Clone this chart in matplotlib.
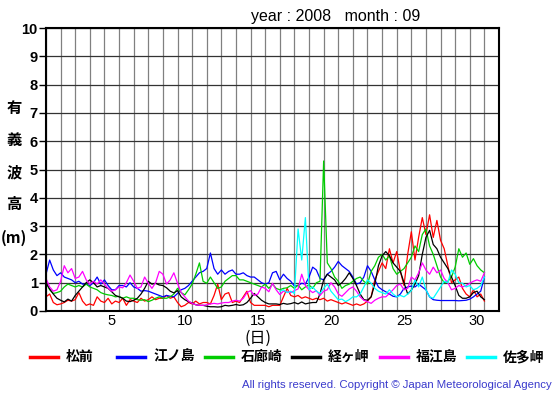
import numpy as np
import matplotlib
matplotlib.use("Agg")
import matplotlib.pyplot as plt
from matplotlib.lines import Line2D

plt.rcParams['font.family'] = ['Liberation Sans', 'Noto Sans CJK JP', 'DejaVu Sans']

# 6-hourly significant wave height (m), Sept 2008, t = 0 is start of day 1
t = np.arange(121) * 0.25

matsumae = [0.5, 0.6, 0.3, 0.22, 0.25, 0.3, 0.38, 0.35, 0.4, 0.65, 0.35, 0.2,
            0.25, 0.2, 0.5, 0.35, 0.3, 0.45, 0.25, 0.35, 0.3, 0.45, 0.2, 0.4,
            0.35, 0.3, 0.45, 0.35, 0.4, 0.5, 0.4, 0.45, 0.45, 0.55, 0.45, 0.5,
            0.3, 0.15, 0.2, 0.3, 0.25, 0.35, 0.25, 0.3, 0.3, 0.25, 0.55, 0.95,
            0.4, 0.6, 0.65, 0.3, 0.35, 0.3, 0.5, 0.7, 0.3, 0.2, 0.2, 0.2,
            0.2, 0.15, 0.2, 0.2, 0.2, 0.5, 0.8, 0.55, 0.5, 0.55, 0.45, 0.5,
            0.45, 0.4, 0.45, 0.4, 0.45, 0.35, 0.4, 0.35, 0.3, 0.25, 0.3, 0.25,
            0.2, 0.25, 0.2, 0.25, 0.35, 0.5, 1.1, 1.4, 1.7, 1.5, 2.2, 1.7,
            2.1, 1.4, 0.9, 2.0, 2.8, 1.8, 2.6, 3.3, 2.7, 3.4, 2.6, 3.2,
            2.5, 2.2, 1.6, 1.0, 1.1, 1.2, 0.8, 0.6, 0.5, 0.75, 0.5, 0.6, 0.35]

enoshima = [1.3, 1.8, 1.45, 1.25, 1.35, 1.2, 1.15, 1.1, 1.0, 1.05, 0.95, 0.95,
            0.9, 1.0, 1.2, 0.95, 1.1, 0.9, 0.75, 0.75, 0.9, 0.9, 0.85, 1.0,
            0.85, 0.8, 0.7, 0.72, 0.7, 0.65, 0.6, 0.55, 0.5, 0.55, 0.52, 0.5,
            0.62, 0.75, 0.8, 0.9, 1.05, 1.2, 1.35, 1.4, 1.5, 2.05, 1.5, 1.3,
            1.45, 1.3, 1.4, 1.45, 1.3, 1.3, 1.35, 1.25, 1.2, 1.2, 1.1, 1.0,
            0.95, 1.0, 1.35, 1.4, 1.1, 1.3, 1.15, 1.05, 0.88, 0.9, 0.98, 0.95,
            1.2, 1.55, 1.45, 1.15, 1.1, 1.3, 1.4, 1.55, 1.75, 1.6, 1.5, 1.4,
            1.2, 0.95, 1.0, 1.2, 1.6, 1.4, 1.1, 0.85, 0.75, 0.68, 0.6, 0.52,
            0.5, 0.6, 0.8, 0.85, 0.88, 0.85, 0.95, 0.85, 0.75, 0.5, 0.4, 0.38,
            0.37, 0.37, 0.37, 0.37, 0.37, 0.36, 0.37, 0.38, 0.42, 0.5, 0.6, 0.7, 1.2]

irozaki = [1.0, 0.75, 0.62, 0.65, 0.7, 0.85, 0.95, 0.9, 0.85, 0.9, 0.85, 0.95,
           0.85, 0.8, 0.75, 0.65, 0.6, 0.57, 0.55, 0.5, 0.52, 0.45, 0.5, 0.45,
           0.45, 0.4, 0.38, 0.4, 0.33, 0.38, 0.45, 0.5, 0.45, 0.45, 0.5, 0.6,
           0.8, 0.65, 0.57, 0.75, 0.95, 1.3, 1.7, 1.05, 0.98, 1.2, 1.0, 0.8,
           0.85, 1.05, 1.15, 1.25, 1.25, 1.1, 1.1, 1.05, 1.0, 0.95, 0.9, 0.85,
           0.95, 0.8, 0.95, 0.8, 0.75, 0.8, 0.82, 0.9, 0.8, 0.92, 0.75, 0.85,
           0.92, 0.8, 1.0, 1.05, 5.3, 1.7, 1.5, 1.2, 1.05, 0.8, 0.9, 0.95,
           1.05, 1.15, 1.2, 1.05, 0.95, 1.4, 1.6, 1.9, 2.0, 1.8, 1.95, 1.5,
           1.3, 1.4, 1.5, 1.7, 1.9, 2.3, 2.1, 2.7, 2.9, 2.3, 2.0, 1.6,
           1.2, 1.0, 1.05, 1.2, 1.55, 2.2, 1.9, 2.05, 1.65, 1.85, 1.6, 1.45, 1.35]

kyogamisaki = [1.0, 0.78, 0.6, 0.45, 0.38, 0.32, 0.42, 0.35, 0.55, 0.7, 0.85, 1.0,
               1.1, 1.0, 0.85, 0.9, 0.85, 0.8, 0.68, 0.55, 0.5, 0.45, 0.35, 0.33,
               0.38, 0.45, 0.6, 0.8, 1.05, 0.95, 0.98, 0.92, 0.9, 0.82, 0.7, 0.64,
               0.72, 0.5, 0.4, 0.33, 0.28, 0.22, 0.2, 0.2, 0.17, 0.15, 0.15, 0.14,
               0.15, 0.2, 0.18, 0.2, 0.23, 0.2, 0.22, 0.3, 0.45, 0.62, 0.5, 0.38,
               0.3, 0.25, 0.25, 0.25, 0.23, 0.27, 0.24, 0.26, 0.3, 0.25, 0.32, 0.25,
               0.28, 0.3, 0.3, 0.6, 1.1, 1.3, 1.2, 1.1, 0.9, 1.0, 1.15, 1.35,
               1.15, 0.9, 0.6, 0.4, 0.38, 0.5, 0.95, 1.6, 1.95, 2.1, 1.95, 1.7,
               1.55, 1.4, 1.0, 0.6, 0.74, 0.95, 1.25, 2.0, 2.6, 2.85, 2.35, 2.2,
               1.9, 1.7, 1.5, 1.2, 0.9, 0.55, 0.45, 0.45, 0.5, 0.65, 0.7, 0.5, 0.4]

fukuejima = [1.15, 0.85, 0.7, 0.75, 1.05, 1.6, 1.35, 1.5, 1.15, 1.2, 1.4, 1.1,
             0.95, 1.05, 0.95, 1.1, 0.95, 0.8, 0.7, 0.75, 0.85, 0.82, 1.0, 1.27,
             1.05, 0.8, 0.85, 1.2, 0.98, 0.8, 1.0, 1.4, 1.3, 0.95, 1.1, 1.35,
             0.98, 0.65, 0.5, 0.35, 0.27, 0.22, 0.2, 0.2, 0.22, 0.25, 0.27, 0.25,
             0.28, 0.3, 0.3, 0.35, 0.38, 0.35, 0.45, 0.65, 0.72, 0.55, 0.6, 0.85,
             0.8, 0.68, 0.98, 0.75, 0.58, 0.7, 0.68, 0.65, 0.72, 0.78, 1.3, 0.9,
             0.75, 0.65, 0.72, 0.55, 0.7, 0.75, 1.0, 0.85, 0.6, 0.52, 0.65, 0.78,
             0.85, 0.7, 0.5, 0.38, 0.33, 0.27, 0.38, 0.45, 0.5, 0.5, 0.62, 0.75,
             0.9, 0.95, 0.75, 0.8, 1.2, 1.1, 1.35, 1.7, 1.45, 1.3, 1.55, 1.35,
             1.45, 1.15, 1.0, 0.75, 0.8, 0.9, 0.85, 0.9, 0.98, 1.05, 1.1, 1.05, 1.35]

satamisaki = [np.nan] * 64 + [
              0.7, 0.75, 0.65, 0.7, 0.62, 2.9, 1.8, 3.3,
              0.75, 0.85, 0.7, 0.62, 0.8, 0.95, 0.7, 0.55, 0.4, 0.42, 0.33, 0.4,
              0.5, 0.5, 0.6, 0.85, 1.1, 0.98, 0.8, 0.7, 0.65, 0.6, 0.75, 0.6,
              0.5, 0.55, 0.5, 0.6, 0.72, 1.1, 0.85, 1.2, 0.75, 0.5, 0.45, 0.65,
              0.85, 1.05, 1.0, 1.45, 1.3, 1.0, 0.98, 0.85, 0.9, 0.75, 0.8, 0.9, 1.2]

stations = ['松前', '江ノ島', '石廊崎', '経ヶ岬', '福江島', '佐多岬']
series = [matsumae, enoshima, irozaki, kyogamisaki, fukuejima, satamisaki]
colors = ['#ff0000', '#0000ff', '#00cc00', '#000000', '#ff00ff', '#00ffff']

fig = plt.figure(figsize=(5.55, 3.95), dpi=100)
ax = fig.add_axes([46 / 555, 84 / 395, 453 / 555, 283 / 395])

for vals, c in zip(series, colors):
    ax.plot(t, vals, color=c, lw=0.9)

ax.set_xlim(0, 31)
ax.set_ylim(0, 10)
ax.set_xticks(np.arange(0, 32), minor=True)
ax.set_xticks([4.5, 9.5, 14.5, 19.5, 24.5, 29.5])
ax.set_xticklabels(['5', '10', '15', '20', '25', '30'], fontsize=10.5)
ax.set_yticks(np.arange(0, 11))
ax.set_yticklabels([str(i) for i in range(11)], fontsize=10.5, fontweight='bold')
ax.tick_params(axis='x', which='both', length=0, pad=2)
ax.tick_params(axis='y', length=5, width=1, pad=1)
ax.grid(which='minor', axis='x', color='#808080', lw=0.9)
ax.grid(which='major', axis='y', color='#333333', lw=0.9)
ax.set_axisbelow(True)
for sp in ax.spines.values():
    sp.set_linewidth(1.5)

fig.text(251 / 555, 1 - 16 / 395, 'year : 2008   month : 09', fontsize=11.5,
         ha='left', va='center')

for ch, yy in zip(['有', '義', '波', '高', '(m)'], [108, 140, 172, 204, 238]):
    fig.text(14 / 555, 1 - yy / 395, ch, fontsize=11, fontweight='bold',
             ha='center', va='center', family=['Noto Sans CJK JP', 'DejaVu Sans'])

fig.text(258 / 555, 1 - 338 / 395, '(日)', fontsize=11.5, ha='center', va='center',
         family=['Noto Sans CJK JP', 'DejaVu Sans'])

# legend row
for i, (name, c) in enumerate(zip(stations, colors)):
    x0 = (30 + i * 87.4) / 555
    fig.add_artist(Line2D([x0, x0 + 28 / 555], [1 - 357 / 395] * 2, color=c, lw=2.5))
    fig.text(x0 + 36 / 555, 1 - 357 / 395, name, fontsize=10, fontweight='bold',
             ha='left', va='center', family=['Noto Sans CJK JP', 'DejaVu Sans'])

fig.text(552 / 555, 1 - 385 / 395,
         'All rights reserved. Copyright \u00a9 Japan Meteorological Agency',
         fontsize=8.2, color='#3a3acc', ha='right', va='center')

fig.savefig('out.png', dpi=100)
